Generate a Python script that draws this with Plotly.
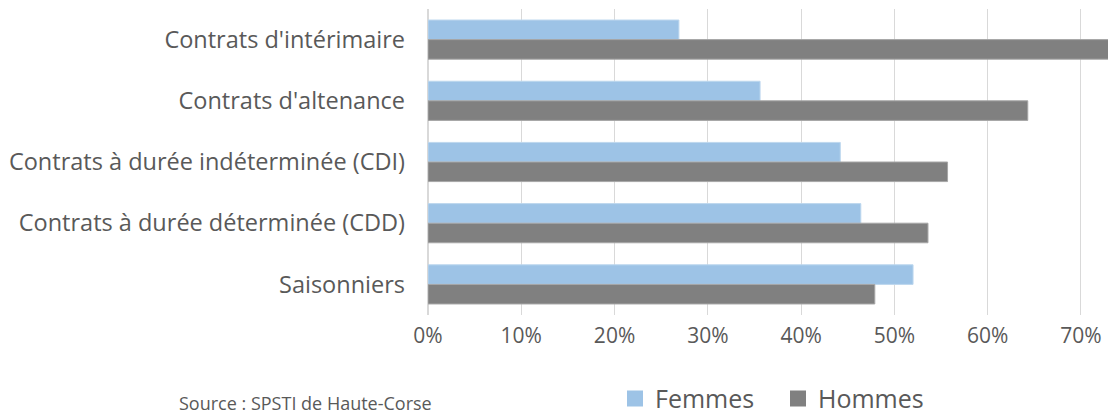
import plotly.graph_objects as go

categories = ["Contrats d'intérimaire", "Contrats d'altenance",
              "Contrats à durée indéterminée (CDI)",
              "Contrats à durée déterminée (CDD)", "Saisonniers"]
femmes = [0.269, 0.356, 0.442, 0.464, 0.520]
hommes = [0.731, 0.643, 0.557, 0.536, 0.479]
tick_vals = [0, 0.1, 0.2, 0.3, 0.4, 0.5, 0.6, 0.7]
tick_text = ["0%", "10%", "20%", "30%", "40%", "50%", "60%", "70%"]
series_names = ["Femmes", "Hommes"]
series_colors = ["#9DC3E6", "#808080"]
series_edges = ["#BDD7EE", "#A6A6A6"]

fig = go.Figure()
for name, vals, col, edge in zip(series_names, [femmes, hommes], series_colors, series_edges):
    fig.add_trace(go.Bar(y=categories, x=vals, name=name, orientation="h",
                         marker=dict(color=col, line=dict(color=edge, width=1)),
                         legendgroup=name, showlegend=False))
# legend entries with larger square glyphs
for name, col in zip(series_names, series_colors):
    fig.add_trace(go.Scatter(x=[None], y=[None], mode="markers", name=name,
                             legendgroup=name,
                             marker=dict(symbol="square", size=17, color=col)))

fig.update_layout(
    width=1108, height=414,
    margin=dict(l=428, r=0, t=9, b=99, autoexpand=False),
    paper_bgcolor="white", plot_bgcolor="white",
    barmode="group", bargap=0.36, bargroupgap=0,
    font=dict(family="Open Sans", color="#595959"),
    legend=dict(orientation="h", x=0.275, xanchor="left", y=-0.274, yref="paper",
                yanchor="middle", font=dict(size=25, color="#595959"),
                traceorder="normal", itemsizing="trace", entrywidth=118,
                itemwidth=30),
    showlegend=True,
)
fig.update_xaxes(range=[0, 0.729], tickvals=tick_vals, ticktext=tick_text,
                 showgrid=True, gridcolor="#D9D9D9", gridwidth=1,
                 zeroline=True, zerolinecolor="#D9D9D9",
                 tickfont=dict(size=21, color="#595959"), ticks="",
                 ticklabelstandoff=6, fixedrange=True)
fig.update_yaxes(autorange="reversed", tickfont=dict(size=23.5, color="#595959"),
                 ticklabelstandoff=22, showline=False)

fig.add_annotation(text="Source : SPSTI de Haute-Corse", xref="paper", yref="paper",
                   x=-0.369, y=-0.288, xanchor="left", yanchor="middle", showarrow=False,
                   font=dict(size=18, color="#595959"))

fig.write_html("out.html", config={"displayModeBar": False},
               post_script="document.body.style.margin='0px';")
